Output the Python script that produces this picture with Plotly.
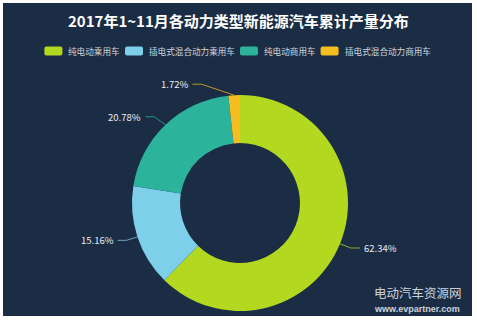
import math
import plotly.graph_objects as go

# ---- data ----
categories = ["纯电动乘用车", "插电式混合动力乘用车", "纯电动商用车", "插电式混合动力商用车"]
values = [62.34, 15.16, 20.78, 1.72]
colors = ["#b2d91f", "#7dcfea", "#2bb39c", "#f5bd1f"]
title_text = "2017年1~11月各动力类型新能源汽车累计产量分布"
watermark_cn = "电动汽车资源网"
watermark_url = "www.evpartner.com"

# ---- canvas geometry (pixels) ----
WIDTH, HEIGHT = 477, 323
ML, MR, MT, MB = 3, 5, 3, 7
PW, PH = WIDTH - ML - MR, HEIGHT - MT - MB
BG = "#1b2d45"

CX, CY, R = 240, 203, 108      # pie centre and outer radius in px
HOLE = 0.555
L1, L2 = 11, 9                 # leader line lengths


def px(x):
    return (x - ML) / PW


def py(y):
    return (HEIGHT - MB - y) / PH


fig = go.Figure()
fig.add_trace(go.Pie(
    labels=categories, values=values, sort=False, direction="clockwise",
    rotation=0, hole=HOLE, textinfo="none", hoverinfo="label+percent",
    marker=dict(colors=colors, line=dict(width=0)),
    domain=dict(x=[px(CX - R), px(CX + R)], y=[py(CY + R), py(CY - R)]),
    showlegend=False,
))

shapes = [dict(type="rect", xref="paper", yref="paper", x0=0, x1=1, y0=0, y1=1,
               fillcolor=BG, line=dict(width=0), layer="below")]
annotations = []

# ---- outside labels with leader lines (ECharts-like layout) ----
total = sum(values)
cum = 0.0
for v, c in zip(values, colors):
    mid = (cum + v / 2) / total
    cum += v
    th = 2 * math.pi * mid
    dx, dy = math.sin(th), -math.cos(th)
    ex, ey = CX + R * dx, CY + R * dy
    ly = CY + (R + L1) * dy
    d = 1 if dx >= 0 else -1
    delta_y = abs(ly - CY)
    if delta_y < R + L1:
        delta_x = math.sqrt((R + L1 + L2) ** 2 - delta_y ** 2)
    else:
        delta_x = abs(CX + (R + L1) * dx + d * L2 - CX)
    x3 = CX + d * delta_x
    x2 = x3 - d * L2
    shapes.append(dict(type="path", xref="paper", yref="paper",
                       path=f"M{px(ex)},{py(ey)} L{px(x2)},{py(ly)} L{px(x3)},{py(ly)}",
                       line=dict(color=c, width=1), opacity=0.75, layer="above"))
    annotations.append(dict(
        x=px(x3 + d * 2), y=py(ly), xref="paper", yref="paper",
        text=f"{v / total * 100:.2f}%", showarrow=False,
        xanchor="left" if d > 0 else "right", yanchor="middle",
        font=dict(family="Noto Sans CJK SC", size=9.5, color="#e8ecf0")))

# ---- title ----
annotations.append(dict(x=px(238), y=py(21), xref="paper", yref="paper",
                        text=f"<b>{title_text}</b>", showarrow=False,
                        xanchor="center", yanchor="middle",
                        font=dict(family="Noto Sans CJK SC", size=15, color="#ffffff")))

# ---- custom legend ----
LFS = 8.6
SW, SH = 18, 9
SGAP, IGAP = 4, 7
LEG_Y = 51
widths = [SW + SGAP + len(cat) * LFS for cat in categories]
legend_total = sum(widths) + IGAP * (len(categories) - 1)
x = 236.5 - legend_total / 2
for cat, c, w in zip(categories, colors, widths):
    x0, x1 = x, x + SW
    y0, y1 = LEG_Y - SH / 2, LEG_Y + SH / 2
    rr = 2
    path = (f"M{px(x0 + rr)},{py(y0)} L{px(x1 - rr)},{py(y0)} Q{px(x1)},{py(y0)} {px(x1)},{py(y0 + rr)} "
            f"L{px(x1)},{py(y1 - rr)} Q{px(x1)},{py(y1)} {px(x1 - rr)},{py(y1)} "
            f"L{px(x0 + rr)},{py(y1)} Q{px(x0)},{py(y1)} {px(x0)},{py(y1 - rr)} "
            f"L{px(x0)},{py(y0 + rr)} Q{px(x0)},{py(y0)} {px(x0 + rr)},{py(y0)} Z")
    shapes.append(dict(type="path", xref="paper", yref="paper", path=path,
                       fillcolor=c, line=dict(width=0), layer="above"))
    annotations.append(dict(x=px(x1 + SGAP), y=py(LEG_Y), xref="paper", yref="paper",
                            text=cat, showarrow=False, xanchor="left", yanchor="middle",
                            font=dict(family="Noto Sans CJK SC", size=LFS, color="#cfd5dc")))
    x += w + IGAP

# ---- watermark ----
annotations.append(dict(x=px(418), y=py(302.5), xref="paper", yref="paper",
                        text=watermark_cn, showarrow=False, xanchor="center", yanchor="bottom",
                        borderpad=0,
                        font=dict(family="Noto Sans CJK SC", size=12.5, color="rgba(225,230,235,0.9)")))
annotations.append(dict(x=px(417), y=py(302.5), xref="paper", yref="paper",
                        text=f"<b>{watermark_url}</b>", showarrow=False, xanchor="center", yanchor="top",
                        borderpad=0,
                        font=dict(family="Liberation Sans", size=9, color="rgba(225,230,235,0.9)")))

fig.update_layout(
    width=WIDTH, height=HEIGHT,
    margin=dict(l=ML, r=MR, t=MT, b=MB, pad=0),
    paper_bgcolor="#ffffff",
    shapes=shapes, annotations=annotations,
    showlegend=False,
)

fig.write_html("out.html")
